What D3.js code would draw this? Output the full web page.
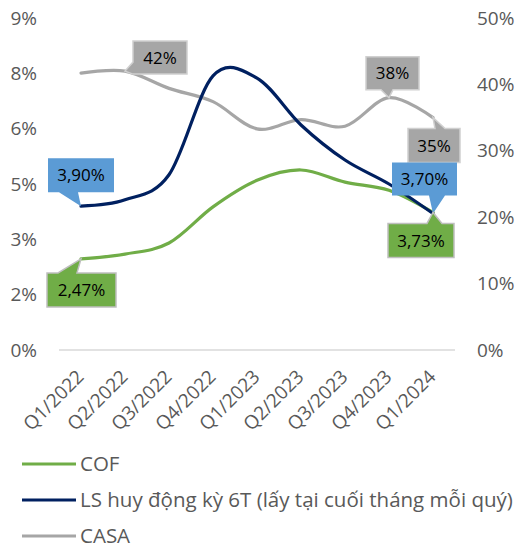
<!DOCTYPE html>
<html>
<head>
<meta charset="utf-8">
<script src="https://cdn.jsdelivr.net/npm/d3@7"></script>
<style>
  body { margin: 0; background: #fff; }
  text { font-family: "Open Sans", "Noto Sans", sans-serif; }
</style>
</head>
<body>
<svg id="chart" width="520" height="549"></svg>
<script>
// data
const quarters = ['Q1/2022', 'Q2/2022', 'Q3/2022', 'Q4/2022', 'Q1/2023', 'Q2/2023', 'Q3/2023', 'Q4/2023', 'Q1/2024'];
const cof = [2.47, 2.6, 2.9, 3.88, 4.6, 4.88, 4.55, 4.33, 3.73];
const lsRate = [3.90, 4.07, 4.75, 7.43, 7.37, 6.1, 5.15, 4.5, 3.70];
const casa = [41.7, 42, 39.4, 37.4, 33.3, 34.7, 33.7, 38, 35];
const leftTicks = [0, 1.5, 3, 4.5, 6, 7.5, 9];
const rightTicks = [0, 10, 20, 30, 40, 50];
const legendNames = ['COF', 'LS huy động kỳ 6T (lấy tại cuối tháng mỗi quý)', 'CASA'];

const svg = d3.select('#chart');
const plot = { left: 59, right: 455, top: 18, bottom: 350 };

const x = d3.scaleBand()
    .domain(quarters)
    .range([plot.left, plot.right]);
const cx = q => x(q) + x.bandwidth() / 2;

const yL = d3.scaleLinear().domain([0, 9]).range([plot.bottom, plot.top]);
const yR = d3.scaleLinear().domain([0, 50]).range([plot.bottom, plot.top]);

const tickColor = '#595959';

// baseline gridline
svg.append('line')
    .attr('x1', plot.left).attr('x2', plot.right)
    .attr('y1', yL(0)).attr('y2', yL(0))
    .attr('stroke', '#d9d9d9').attr('stroke-width', 1.5);

// left axis
const gl = svg.append('g')
    .attr('transform', `translate(37,0)`)
    .call(d3.axisLeft(yL).tickValues(leftTicks).tickSize(0).tickPadding(0)
        .tickFormat(d => Math.round(d) + '%'));
gl.select('.domain').remove();
gl.selectAll('text').attr('fill', tickColor).style('font-size', '19px')
    .style('font-family', '"Open Sans", sans-serif');

// right axis
const gr = svg.append('g')
    .attr('transform', `translate(477,0)`)
    .call(d3.axisRight(yR).tickValues(rightTicks).tickSize(0).tickPadding(0)
        .tickFormat(d => d + '%'));
gr.select('.domain').remove();
gr.selectAll('text').attr('fill', tickColor).style('font-size', '19px')
    .style('font-family', '"Open Sans", sans-serif');

// x labels
svg.append('g').selectAll('text')
    .data(quarters)
    .join('text')
    .attr('transform', d => `translate(${cx(d) + 4},378) rotate(-45)`)
    .attr('text-anchor', 'end')
    .attr('fill', tickColor)
    .style('font-size', '19px')
    .text(d => d);

// lines
const series = {
    casa: { values: casa, y: yR, color: '#a6a6a6' },
    cof: { values: cof, y: yL, color: '#70ad47' },
    ls: { values: lsRate, y: yL, color: '#002060' }
};

const lineGen = (s) => d3.line()
    .x((d, i) => cx(quarters[i]))
    .y(d => s.y(d))
    .curve(d3.curveCatmullRom.alpha(0));

['casa', 'cof', 'ls'].forEach(k => {
    const s = series[k];
    svg.append('path')
        .datum(s.values)
        .attr('fill', 'none')
        .attr('stroke', s.color)
        .attr('stroke-width', 3.2)
        .attr('stroke-linecap', 'round')
        .attr('d', lineGen(s));
});

// callout labels
const labels = [
    { s: 'casa', i: 1, dx: 8, dy: -30, w: 54, h: 33, side: 'left', b0: -9, b1: 3, fill: '#a6a6a6', stroke: '#d0d0d0' },
    { s: 'casa', i: 7, dx: -23, dy: -41, w: 53, h: 33, side: 'bottom', b0: -8, b1: 4, fill: '#a6a6a6', stroke: '#d0d0d0' },
    { s: 'casa', i: 8, dx: -25, dy: 11, w: 52, h: 34, side: 'top', b0: 2, b1: 12, fill: '#a6a6a6', stroke: '#d0d0d0' },
    { s: 'ls', i: 8, dx: -41, dy: -51, w: 65, h: 33, side: 'bottom', b0: -4, b1: 12, fill: '#5b9bd5', stroke: 'none' },
    { s: 'ls', i: 0, dx: -33, dy: -48, w: 66, h: 34, side: 'bottom', b0: -22, b1: -3, fill: '#5b9bd5', stroke: 'none' },
    { s: 'cof', i: 8, dx: -45, dy: 11, w: 66, h: 34, side: 'top', b0: -6, b1: 9, fill: '#70ad47', stroke: '#bfbfbf' },
    { s: 'cof', i: 0, dx: -34, dy: 14, w: 69, h: 34, side: 'top', b0: -23, b1: -4, fill: '#70ad47', stroke: '#bfbfbf' }
];

function calloutPath(px, py, l) {
    const x0 = px + l.dx, y0 = py + l.dy, x1 = x0 + l.w, y1 = y0 + l.h;
    if (l.side === 'bottom') {
        return `M${x0},${y0}H${x1}V${y1}H${px + l.b1}L${px},${py}L${px + l.b0},${y1}H${x0}Z`;
    } else if (l.side === 'top') {
        return `M${x0},${y0}H${px + l.b0}L${px},${py}L${px + l.b1},${y0}H${x1}V${y1}H${x0}Z`;
    }
    return `M${x0},${y0}H${x1}V${y1}H${x0}V${py + l.b1}L${px},${py}L${x0},${py + l.b0}Z`;
}

const fmt = (k, v) => k === 'casa' ? Math.round(v) + '%' : v.toFixed(2).replace('.', ',') + '%';

labels.forEach(l => {
    const s = series[l.s];
    const v = s.values[l.i];
    const px = cx(quarters[l.i]), py = s.y(v);
    svg.append('path')
        .attr('d', calloutPath(px, py, l))
        .attr('fill', l.fill)
        .attr('stroke', l.stroke)
        .attr('stroke-width', 1.5);
    svg.append('text')
        .attr('x', px + l.dx + l.w / 2)
        .attr('y', py + l.dy + l.h / 2)
        .attr('dy', '0.36em')
        .attr('text-anchor', 'middle')
        .attr('fill', '#000')
        .style('font-size', '17px')
        .text(fmt(l.s, v));
});

// legend
const legend = svg.append('g').selectAll('g')
    .data(['cof', 'ls', 'casa'])
    .join('g')
    .attr('transform', (d, i) => `translate(22,${464 + i * 36})`);

legend.append('line')
    .attr('x1', 0).attr('x2', 54)
    .attr('stroke', d => series[d].color)
    .attr('stroke-width', 3.2);

legend.append('text')
    .attr('x', 58)
    .attr('dy', '0.36em')
    .attr('fill', tickColor)
    .style('font-size', '20.5px')
    .text((d, i) => legendNames[i]);
</script>
</body>
</html>
